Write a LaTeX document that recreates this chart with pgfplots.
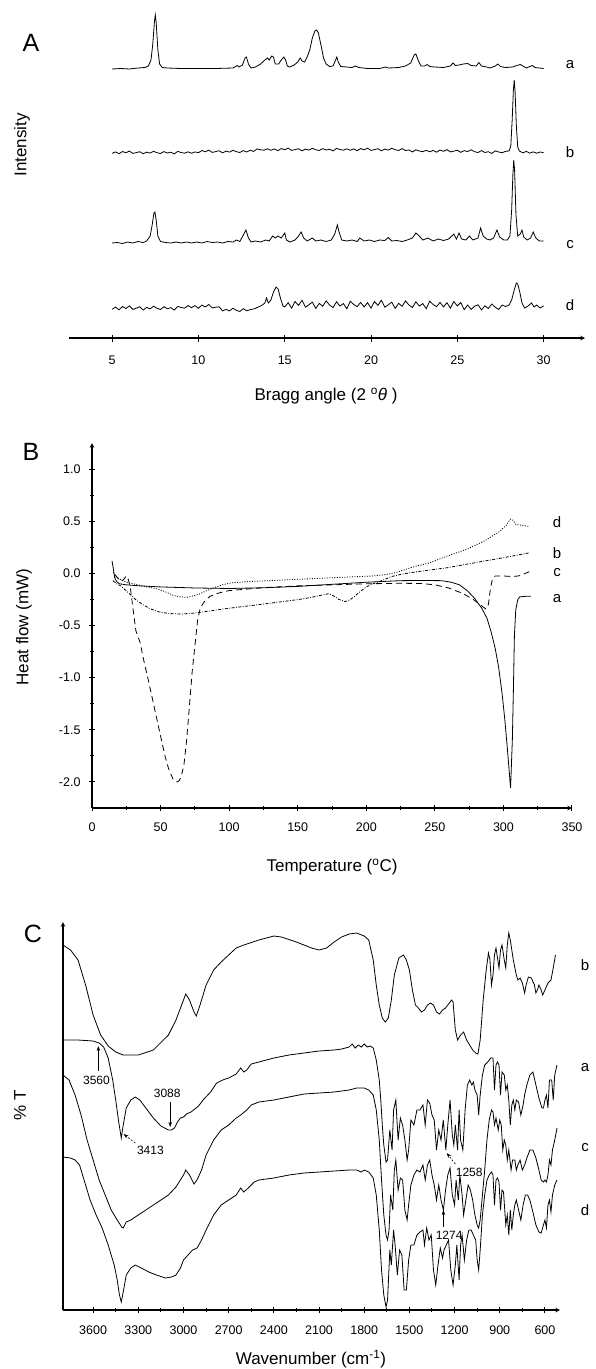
\documentclass[border=0pt]{standalone}
\usepackage{fontspec}
\setmainfont{Liberation Sans}
\usepackage{pgfplots}
\pgfplotsset{compat=1.18}
\usetikzlibrary{arrows.meta}

\pgfplotsset{
  panel/.style={
    scale only axis, anchor=south west, clip=false,
    axis line style={line width=1.1pt, -},
    tick style={line width=1pt, black},
    tick align=outside,
    major tick length=6pt, minor tick length=3.5pt,
    ticklabel style={font=\fontsize{12.5}{14}\selectfont},
    /pgf/number format/assume math mode=true,
  },
  curve/.style={black, line width=0.8pt, no markers},
}
\newcommand{\lbl}{\fontsize{17}{20}\selectfont}
\newcommand{\crv}{\fontsize{15}{18}\selectfont}
\newcommand{\pan}{\fontsize{25}{30}\selectfont}
\newcommand{\ann}{\fontsize{12}{14}\selectfont}

\begin{document}
\begin{tikzpicture}[x=1pt,y=1pt]
\path[use as bounding box] (0,0) rectangle (595,-1369);

% ---------------- A: XRD ----------------
\begin{axis}[panel, at={(69pt,-338pt)}, width=516pt, height=333pt,
  xmin=2.5, xmax=32.4, ymin=-338, ymax=-5,
  axis x line=bottom, axis y line=none,
  xtick={5,10,15,20,25,30}, ytick=\empty, major tick length=7pt,
  xticklabel style={yshift=-11pt}]
% a
\addplot[curve] table[y expr=-\thisrowno{1}] {
5.0 69
5.5 68.5
6.0 69
6.5 68
6.9 67.5
7.1 66
7.25 60
7.35 45
7.45 22
7.5 15
7.55 22
7.65 50
7.75 64
7.9 67.5
8.2 68
9 68.5
10 68.5
11 68.5
12 68
12.1 67
12.25 65.5
12.35 67
12.55 65
12.7 58
12.78 57
12.9 64
13.05 68
13.3 67
13.6 64
13.85 60
14.0 58
14.1 60
14.25 56
14.35 57
14.45 64
14.65 64
14.8 60
14.95 57
15.05 60
15.15 66
15.3 67
15.55 65
15.75 62
15.9 58
16.0 61
16.15 62
16.3 57
16.45 50
16.6 38
16.75 31
16.85 30
16.95 33
17.1 45
17.25 58
17.4 64
17.6 66.5
17.8 66
17.95 60
18.02 57
18.1 62
18.25 66.5
18.6 67
18.9 67.5
19.1 66
19.3 67.5
19.8 68.5
20.5 68.5
20.85 67
21.0 68
21.6 67.5
22.0 66
22.3 63
22.5 55
22.6 54
22.75 61
22.9 66
23.1 66
23.25 64.5
23.4 66.5
23.7 67
24.2 67.5
24.6 66
24.75 63
24.9 65.5
25.1 65
25.35 64
25.6 63.5
25.8 65.5
26.1 66
26.25 62.5
26.4 66
26.7 67
26.9 68
27.2 66
27.35 64
27.5 66.5
27.8 67.5
28.2 67
28.45 65.5
28.65 64.5
28.8 66
29.0 68
29.2 66.5
29.35 65.5
29.5 67.5
30.0 68.5
};
% b
\addplot[curve] table[y expr=-\thisrowno{1}] {
5.0 153.3
5.2 151.9
5.4 153.7
5.6 151.5
5.8 152.8
6.0 151.1
6.2 153.4
6.4 152.6
6.6 151.7
6.8 153.8
7.0 152.1
7.2 153.1
7.4 151.3
7.6 152.7
7.8 153.5
8.0 151.6
8.2 153.0
8.4 152.2
8.6 153.9
8.8 151.4
9.0 152.5
9.2 153.2
9.4 151.8
9.6 153.3
9.8 151.9
10.0 152.7
10.2 150.5
10.4 151.8
10.6 150.1
10.8 152.4
11.0 151.6
11.2 150.7
11.4 152.8
11.6 151.1
11.8 152.1
12.0 150.3
12.2 151.7
12.4 152.5
12.6 150.6
12.8 152.0
13.0 150.2
13.2 151.4
13.4 148.9
13.6 149.8
13.8 150.2
14.0 148.8
14.2 150.3
14.4 148.9
14.6 150.7
14.8 148.5
15.0 149.8
15.2 148.1
15.4 150.4
15.6 149.6
15.8 148.7
16.0 150.8
16.2 149.1
16.4 150.1
16.6 148.3
16.8 149.7
17.0 150.5
17.2 148.6
17.4 150.0
17.6 149.2
17.8 150.9
18.0 148.4
18.2 149.5
18.4 150.2
18.6 148.8
18.8 150.3
19.0 148.9
19.2 150.7
19.4 148.5
19.6 149.8
19.8 148.1
20.0 150.4
20.2 149.6
20.4 148.7
20.6 150.8
20.8 149.1
21.0 150.1
21.2 148.3
21.4 149.7
21.6 150.5
21.8 148.6
22.0 150.5
22.2 150.0
22.4 152.0
22.6 149.8
22.8 151.0
23.0 151.7
23.2 150.3
23.4 151.8
23.6 150.4
23.8 152.2
24.0 150.0
24.2 151.3
24.4 149.6
24.6 151.9
24.8 151.1
25.0 150.2
25.2 152.3
25.4 150.6
25.6 151.6
25.8 149.8
26.0 151.7
26.2 152.5
26.4 150.6
26.6 152.5
26.8 151.7
27.0 153.4
27.2 150.9
27.4 152.0
27.6 152.7
27.8 151.3
28.0 151
28.1 146
28.18 120
28.25 90
28.3 80
28.35 92
28.42 125
28.5 147
28.6 151
28.8 152.8
29.0 151.4
29.2 153.1
29.4 151.9
29.6 153.2
29.8 152.0
30.0 152.6
};
% c
\addplot[curve] table[y expr=-\thisrowno{1}] {
5.0 243
5.3 242.5
5.6 243.5
5.9 242
6.2 243
6.5 241.5
6.8 242.5
7.0 241
7.2 236
7.32 225
7.42 213
7.48 212
7.55 220
7.65 236
7.8 241.5
8.1 242.5
8.4 243
8.7 242
9.0 243
9.3 242
9.6 243
9.9 242
10.2 243
10.5 241.5
10.8 242.5
11.1 242
11.4 243
11.7 241.5
12.0 242
12.2 240
12.4 241.5
12.6 235
12.75 230
12.9 238
13.05 242
13.3 241
13.6 242
13.9 240
14.1 241
14.3 236
14.45 238
14.6 236
14.8 238
15.0 233
15.1 240
15.3 242
15.6 240
15.8 236
15.95 232
16.1 238
16.3 241
16.6 238
16.8 241
17.1 240
17.4 241.5
17.7 240
17.9 234
18.05 225
18.15 232
18.3 240
18.6 241
18.9 240
19.2 241.5
19.35 238
19.6 241
19.9 240
20.2 241.5
20.5 240
20.8 240.5
21.0 237.5
21.2 241
21.5 240.5
21.8 241.5
22.1 240
22.4 238
22.6 233
22.8 236
23.0 240
23.3 238
23.6 241
23.9 239
24.2 240.5
24.5 239
24.8 234
24.95 239
25.1 233
25.25 239
25.5 240
25.7 236
25.9 240
26.2 238
26.35 228
26.5 236
26.7 239
26.9 240
27.1 238
27.3 230
27.45 237
27.7 240
27.9 240
28.05 236
28.15 210
28.22 175
28.27 160
28.32 170
28.4 215
28.5 236
28.65 234
28.75 230
28.85 237
29.05 240
29.25 238
29.4 232
29.55 238
29.75 241
30.0 241
};
% d
\addplot[curve] table[y expr=-\thisrowno{1}] {
5.0 309.2
5.2 307.1
5.4 309.8
5.6 306.5
5.8 308.5
6.0 305.9
6.2 309.4
6.4 308.2
6.6 306.8
6.8 310.0
7.0 307.4
7.2 308.9
7.4 306.2
7.6 308.3
7.8 309.5
8.0 306.7
8.2 308.8
8.4 307.6
8.6 310.1
8.8 306.4
9.0 307.5
9.2 308.1
9.4 305.5
9.6 307.7
9.8 305.6
10.0 308.3
10.2 305.0
10.4 307.0
10.6 304.4
10.8 307.9
11.0 307.2
11.2 306.8
11.4 310.9
11.6 309.4
11.8 310.9
12.0 308.2
12.2 310.3
12.4 311.5
12.6 308.7
12.8 310.8
13.0 309.6
13.2 309.0
13.4 307.5
13.6 306.0
13.7 305
13.85 303
13.95 298
14.05 303
14.2 300
14.35 292
14.5 287
14.62 289
14.75 298
14.9 306
15.0 306.9
15.2 302.7
15.4 308.1
15.6 301.5
15.8 305.4
16.0 300.3
16.2 307.2
16.4 304.8
16.6 302.1
16.8 308.4
17.0 303.3
17.2 306.3
17.4 300.9
17.6 305.1
17.8 307.5
18.0 301.8
18.2 306.0
18.4 303.6
18.6 308.7
18.8 301.2
19.0 304.5
19.2 306.6
19.4 302.4
19.6 306.9
19.8 302.7
20.0 308.1
20.2 301.5
20.4 305.4
20.6 300.3
20.8 307.2
21.0 304.8
21.2 302.1
21.4 308.4
21.6 303.3
21.8 306.3
22.0 300.9
22.2 305.1
22.4 307.5
22.6 301.8
22.8 306.0
23.0 303.6
23.2 308.7
23.4 301.2
23.6 304.5
23.8 306.6
24.0 302.4
24.2 306.9
24.4 302.7
24.6 308.1
24.8 301.5
25.0 305.9
25.2 302.5
25.4 309.7
25.6 305.0
25.8 309.4
26.0 306.2
26.2 304.8
26.4 309.9
26.6 305.8
26.8 308.5
27.0 304.0
27.2 307.2
27.4 309.5
27.6 305.0
27.8 306.5
28.0 305
28.15 300
28.3 290
28.42 283
28.5 284
28.62 292
28.75 303
28.9 308
29.1 306
29.3 303
29.45 307
29.6 305
29.8 308
30.0 306
};
\end{axis}

% ---------------- B: DSC ----------------
\begin{axis}[panel, at={(92pt,-808pt)}, width=480pt, height=365pt,
  xmin=0, xmax=350, ymin=-2.25, ymax=1.25,
  axis x line=bottom, axis y line=left,
  xtick={0,50,100,150,200,250,300,350}, minor x tick num=1,
  ytick={-2,-1.5,-1,-0.5,0,0.5,1}, minor y tick num=1,
  xticklabel style={yshift=-8pt},
  yticklabel style={xshift=-5pt, /pgf/number format/.cd, fixed, fixed zerofill, precision=1}]
% a solid
\addplot[curve] coordinates {
(14.6,0.12) (15.5,0.05) (16.5,-0.04) (18,-0.08) (20,-0.10) (25,-0.11) (35,-0.12)
(50,-0.13) (75,-0.14) (100,-0.145) (125,-0.138) (150,-0.125) (175,-0.105)
(200,-0.085) (225,-0.07) (240,-0.068) (255,-0.07) (262,-0.085) (268,-0.11)
(274,-0.17) (279,-0.24) (284,-0.33) (288,-0.43) (291,-0.56) (294,-0.72)
(296.5,-0.9) (299,-1.15) (301,-1.4) (303,-1.7) (305.2,-2.06) (306.5,-1.6)
(307.3,-1.1) (308,-0.6) (309,-0.35) (310.5,-0.25) (312,-0.225) (316,-0.22) (320,-0.22)
};
% b dash-dot
\addplot[curve, dash pattern=on 3pt off 1.5pt on 0.8pt off 1.5pt] coordinates {
(15.4,-0.07) (18,-0.1) (21,-0.12) (26,-0.18) (31.7,-0.25) (37,-0.30) (42.5,-0.34)
(49,-0.37) (56,-0.385) (65,-0.39) (75,-0.38) (86,-0.36) (96.7,-0.34) (110,-0.318)
(124,-0.296) (138,-0.272) (151,-0.25) (160,-0.23) (167,-0.21) (172.6,-0.195)
(176,-0.215) (180,-0.25) (184.7,-0.27) (188,-0.255) (191.5,-0.22) (196,-0.17)
(200,-0.13) (205,-0.1) (210.5,-0.073) (218.6,-0.03) (225,-0.01) (232,0.006)
(245,0.03) (259,0.054) (272,0.085) (286,0.118) (300,0.15) (310,0.175) (319,0.197)
};
% c dashed
\addplot[curve, dash pattern=on 6pt off 4pt] coordinates {
(16.8,-0.01) (19,-0.05) (21,-0.075) (23,-0.06) (25,-0.025) (26.5,-0.06) (28,-0.14)
(30,-0.35) (32,-0.55) (35,-0.66) (38,-0.85) (41,-1.02) (44,-1.2) (47,-1.38)
(50,-1.56) (53.4,-1.76) (56,-1.88) (59,-1.97) (62,-2.0) (63.5,-1.99) (65,-1.95)
(67,-1.84) (69,-1.6) (71,-1.28) (73,-0.95) (75,-0.7) (77,-0.45) (79,-0.33)
(82,-0.27) (86,-0.22) (92,-0.19) (100,-0.165) (125,-0.137) (150,-0.12) (175,-0.11)
(200,-0.1) (225,-0.095) (240,-0.097) (250,-0.11) (260,-0.14) (270,-0.19)
(278,-0.25) (284,-0.31) (287,-0.34) (289,-0.3) (290.5,-0.15) (292,-0.05)
(294,-0.025) (300,-0.025) (306,-0.03) (311,-0.025) (316,0.0) (320,0.022)
};
% d dotted
\addplot[curve, dash pattern=on 1pt off 1.5pt] coordinates {
(15.4,0.01) (17,-0.03) (21,-0.06) (26,-0.09) (32,-0.105) (40,-0.13) (48,-0.15)
(54,-0.18) (59,-0.21) (64,-0.225) (69.6,-0.23) (74,-0.215) (78,-0.2) (83,-0.17)
(88.6,-0.14) (95,-0.11) (102,-0.09) (115,-0.078) (124,-0.073) (150,-0.057)
(178,-0.04) (205,-0.025) (215,-0.01) (221,0.006) (228,0.035) (235,0.065)
(246,0.10) (259,0.166) (273,0.23) (286,0.31) (297,0.40) (302,0.46) (305,0.52)
(307,0.51) (309,0.47) (314,0.46) (319,0.45)
};
\end{axis}

% ---------------- C: FTIR ----------------
\begin{axis}[panel, at={(63pt,-1310pt)}, width=497pt, height=388pt,
  xmin=-3800, xmax=-500, ymin=-1310, ymax=-922,
  axis x line=bottom, axis y line=left, ytick=\empty,
  xtick={-3600,-3300,-3000,-2700,-2400,-2100,-1800,-1500,-1200,-900,-600},
  xticklabels={3600,3300,3000,2700,2400,2100,1800,1500,1200,900,600},
  minor x tick num=1, xticklabel style={yshift=-9pt}]
% b
\addplot[curve] table[x expr=-\thisrowno{0}, y expr=-\thisrowno{1}] {
3800 945
3750 950
3700 960
3650 985
3600 1015
3550 1035
3500 1046
3450 1052
3400 1055
3300 1055
3200 1050
3100 1035
3050 1020
3000 1000
2985 994
2960 1000
2930 1012
2915 1016
2890 1005
2850 985
2800 970
2750 962
2700 955
2650 948
2600 945
2500 940
2400 936
2350 937
2250 942
2150 948
2100 950
2050 948
2000 942
1950 937
1900 934
1850 933
1800 936
1770 940
1740 960
1720 985
1700 1005
1680 1018
1660 1022
1640 1018
1620 1000
1600 975
1570 958
1540 955
1520 960
1500 970
1480 990
1460 1005
1440 1008
1420 1012
1400 1010
1380 1005
1360 1003
1340 1005
1320 1012
1300 1014
1280 1010
1260 1008
1240 1004
1220 1000
1210 1002
1195 1030
1180 1040
1160 1035
1140 1032
1120 1040
1100 1045
1080 1050
1060 1053
1045 1054
1030 1040
1010 1000
990 970
975 953
965 960
955 985
945 975
935 955
925 948
915 958
905 968
895 950
885 945
870 960
860 968
850 945
840 933
830 940
810 960
790 975
780 980
765 978
750 983
735 993
725 985
710 977
690 978
670 985
660 993
650 990
640 985
625 990
615 995
600 990
580 983
560 980
545 968
530 955
};
% a
\addplot[curve] table[x expr=-\thisrowno{0}, y expr=-\thisrowno{1}] {
3800 1040
3700 1040
3600 1041
3560 1043
3530 1047
3500 1058
3470 1080
3450 1100
3430 1122
3413 1138
3400 1125
3380 1108
3350 1100
3320 1097
3290 1100
3250 1108
3200 1118
3150 1126
3100 1130
3080 1130
3060 1128
3040 1122
3020 1118
3000 1117
2980 1114
2950 1112
2900 1106
2870 1100
2820 1092
2780 1083
2740 1080
2700 1078
2650 1074
2620 1068
2600 1072
2580 1070
2550 1064
2500 1062
2400 1058
2300 1055
2200 1053
2100 1051
2000 1050
1950 1049
1900 1047
1880 1044
1860 1048
1840 1045
1820 1047
1800 1044
1780 1047
1760 1046
1740 1048
1720 1060
1700 1080
1690 1100
1680 1125
1670 1145
1655 1162
1645 1160
1630 1130
1615 1150
1605 1110
1590 1100
1575 1140
1560 1118
1545 1125
1530 1140
1515 1160
1505 1150
1490 1120
1470 1125
1450 1110
1430 1110
1410 1105
1395 1125
1380 1100
1365 1103
1350 1115
1335 1120
1320 1150
1305 1130
1290 1140
1275 1120
1258 1150
1245 1125
1230 1100
1215 1135
1205 1145
1195 1125
1180 1150
1170 1110
1160 1140
1145 1150
1130 1110
1115 1085
1100 1080
1085 1085
1075 1082
1065 1090
1050 1095
1040 1115
1030 1095
1015 1075
1000 1065
980 1062
960 1058
945 1058
935 1090
925 1065
915 1062
905 1065
895 1095
885 1072
870 1075
860 1090
850 1085
840 1100
830 1125
820 1105
810 1100
800 1110
790 1100
775 1102
760 1115
745 1105
735 1095
720 1085
700 1075
680 1072
660 1085
640 1098
620 1108
610 1108
600 1100
590 1095
580 1108
570 1080
555 1080
545 1100
535 1075
520 1065
};
% c
\addplot[curve] table[x expr=-\thisrowno{0}, y expr=-\thisrowno{1}] {
3800 1075
3760 1080
3720 1095
3680 1115
3640 1140
3600 1160
3560 1180
3520 1195
3480 1210
3440 1220
3410 1227
3400 1228
3380 1222
3350 1220
3300 1215
3250 1210
3200 1205
3150 1200
3100 1195
3050 1187
3000 1175
2985 1170
2960 1175
2930 1184
2910 1180
2880 1170
2850 1155
2800 1140
2750 1130
2700 1125
2650 1118
2620 1115
2580 1110
2550 1105
2500 1102
2400 1100
2300 1097
2200 1094
2100 1093
2000 1092
1900 1090
1850 1088
1800 1088
1770 1090
1740 1095
1720 1110
1700 1140
1685 1180
1670 1215
1655 1235
1645 1240
1635 1230
1625 1195
1610 1210
1600 1170
1590 1160
1575 1190
1560 1178
1545 1180
1530 1210
1515 1220
1505 1205
1490 1185
1470 1175
1450 1170
1430 1172
1410 1165
1395 1180
1380 1165
1365 1160
1350 1175
1335 1185
1320 1200
1305 1185
1290 1200
1274 1210
1260 1190
1245 1175
1230 1168
1215 1195
1200 1205
1190 1180
1175 1200
1165 1175
1150 1195
1140 1215
1125 1200
1110 1185
1095 1190
1080 1200
1065 1215
1050 1225
1040 1228
1030 1220
1015 1195
1000 1170
985 1140
970 1120
955 1110
945 1112
935 1125
925 1118
910 1130
900 1120
890 1125
880 1150
870 1140
860 1145
850 1160
840 1150
825 1170
815 1160
800 1160
790 1170
780 1165
765 1160
750 1170
735 1165
720 1158
700 1150
680 1150
660 1158
640 1170
625 1180
610 1182
600 1180
590 1182
580 1175
570 1160
560 1165
550 1150
535 1140
520 1128
};
% d
\addplot[curve] table[x expr=-\thisrowno{0}, y expr=-\thisrowno{1}] {
3800 1157
3750 1158
3720 1160
3690 1165
3660 1180
3620 1200
3580 1215
3540 1228
3500 1245
3460 1265
3440 1280
3425 1295
3413 1302
3400 1292
3380 1275
3350 1268
3320 1265
3280 1268
3230 1272
3180 1275
3120 1278
3080 1277
3050 1275
3020 1268
3000 1260
2970 1255
2940 1250
2910 1248
2880 1240
2850 1230
2800 1215
2750 1205
2700 1200
2650 1195
2620 1188
2600 1192
2570 1188
2530 1182
2500 1180
2400 1178
2300 1175
2200 1173
2100 1172
2000 1171
1900 1170
1850 1170
1820 1172
1800 1170
1770 1172
1740 1178
1720 1195
1700 1230
1685 1270
1670 1295
1655 1307
1645 1300
1630 1250
1620 1265
1605 1230
1595 1245
1580 1275
1565 1250
1550 1255
1535 1290
1520 1290
1505 1260
1490 1245
1470 1245
1450 1235
1430 1232
1410 1230
1400 1245
1385 1228
1370 1240
1355 1235
1340 1270
1325 1285
1310 1265
1295 1248
1280 1258
1270 1250
1255 1245
1240 1240
1225 1270
1210 1285
1195 1265
1185 1245
1170 1280
1160 1245
1150 1235
1135 1260
1120 1240
1105 1230
1090 1230
1075 1235
1060 1240
1050 1260
1040 1270
1030 1250
1015 1215
1000 1195
985 1180
970 1175
955 1172
945 1175
935 1205
925 1180
915 1178
905 1182
895 1210
885 1190
875 1192
860 1225
850 1215
840 1235
830 1210
820 1230
810 1215
800 1205
790 1200
775 1210
760 1220
745 1205
730 1195
715 1195
700 1200
680 1212
660 1225
640 1232
625 1233
610 1225
600 1220
590 1228
580 1205
570 1200
560 1212
550 1195
535 1185
520 1180
};
% peak annotations
\node[font=\ann] at (axis cs:-3578,-1080) {3560};
\draw[-{Stealth[length=5pt,width=3.5pt]}, line width=0.6pt] (axis cs:-3565,-1071) -- (axis cs:-3565,-1046);
\node[font=\ann] at (axis cs:-3108,-1093) {3088};
\draw[-{Stealth[length=5pt,width=3.5pt]}, line width=0.6pt] (axis cs:-3088,-1102) -- (axis cs:-3088,-1127);
\node[font=\ann] at (axis cs:-3220,-1150) {3413};
\draw[-{Stealth[length=5pt,width=3.5pt]}, line width=0.6pt, dash pattern=on 2pt off 1.5pt] (axis cs:-3320,-1143) -- (axis cs:-3398,-1134);
\node[font=\ann] at (axis cs:-1103,-1172) {1258};
\draw[-{Stealth[length=5pt,width=3.5pt]}, line width=0.6pt, dash pattern=on 2pt off 1.5pt] (axis cs:-1195,-1164) -- (axis cs:-1252,-1153);
\node[font=\ann] at (axis cs:-1236,-1235) {1274};
\draw[-{Stealth[length=5pt,width=3.5pt]}, line width=0.6pt] (axis cs:-1274,-1227) -- (axis cs:-1274,-1210);
\end{axis}

% ---------------- texts ----------------
\node[font=\pan] at (31,-43) {A};
\node[font=\pan] at (31,-452) {B};
\node[font=\pan] at (33,-934) {C};

\node[font=\lbl, rotate=90] at (22,-145) {Intensity};
\node[font=\lbl] at (326,-396) {Bragg angle (2 \textsuperscript{o}\textit{θ} )};
\node[font=\lbl, rotate=90] at (24,-627) {Heat flow (mW)};
\node[font=\lbl] at (332,-867) {Temperature (\textsuperscript{o}C)};
\node[font=\lbl, rotate=90] at (20,-1105) {\% T};
\node[font=\lbl] at (311,-1359) {Wavenumber (cm\textsuperscript{-1})};

\node[font=\crv] at (570,-65) {a};
\node[font=\crv] at (570,-152) {b};
\node[font=\crv] at (570,-245) {c};
\node[font=\crv] at (570,-305) {d};

\node[font=\crv] at (557,-522) {d};
\node[font=\crv] at (557,-553) {b};
\node[font=\crv] at (557,-573) {c};
\node[font=\crv] at (557,-599) {a};

\node[font=\crv] at (585,-965) {b};
\node[font=\crv] at (585,-1068) {a};
\node[font=\crv] at (585,-1148) {c};
\node[font=\crv] at (585,-1210) {d};
\end{tikzpicture}
\end{document}
